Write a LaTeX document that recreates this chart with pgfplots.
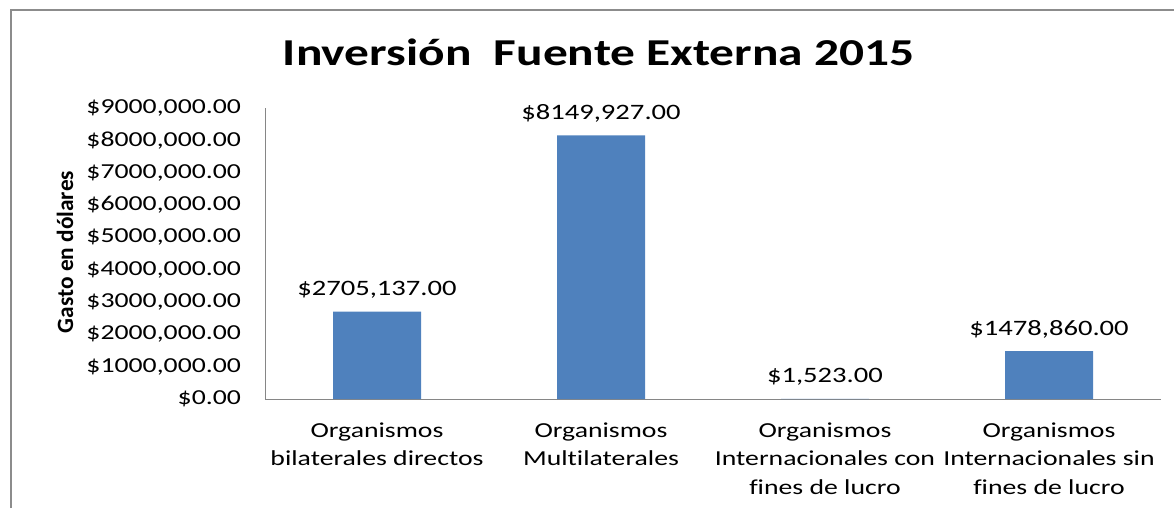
\documentclass[border=0pt]{standalone}
\usepackage{fontspec}
\setmainfont{Carlito}[FakeStretch=1.3, Ligatures=NoCommon]
\newfontfamily\plainfont{Carlito}[Ligatures=NoCommon]
\usepackage{pgfplots}
\pgfplotsset{compat=1.18}
\definecolor{barblue}{HTML}{4F81BD}
\definecolor{axisgray}{HTML}{868686}
\definecolor{framegray}{HTML}{8C8C8C}

\begin{document}
\begin{tikzpicture}
\path[use as bounding box] (0,0) rectangle (880.5pt,381pt);
% chart frame (only top and left edges are visible)
\draw[framegray, line width=1.5pt] (8.25pt,0) -- (8.25pt,373.5pt) -- (880.5pt,373.5pt);
\begin{axis}[
  at={(198.75pt,81.75pt)}, anchor=south west,
  scale only axis, width=672pt, height=218.25pt,
  ymin=0, ymax=9000000, xmin=-0.5, xmax=3.5,
  axis lines*=left,
  axis line style={axisgray, line width=0.75pt},
  major tick length=0pt,
  ytick={0,1000000,2000000,3000000,4000000,5000000,6000000,7000000,8000000,9000000},
  yticklabels={{\$0.00},{\$1000,000.00},{\$2000,000.00},{\$3000,000.00},{\$4000,000.00},
    {\$5000,000.00},{\$6000,000.00},{\$7000,000.00},{\$8000,000.00},{\$9000,000.00}},
  yticklabel style={font=\fontsize{16}{18}\selectfont, xshift=-14.5pt},
  xtick={0,1,2,3},
  xticklabels={{Organismos\\bilaterales directos},{Organismos\\Multilaterales},
    {Organismos\\Internacionales con\\fines de lucro},{Organismos\\Internacionales sin\\fines de lucro}},
  xticklabel style={align=center, font=\fontsize{16}{21.5}\selectfont, yshift=-14pt},
  scaled y ticks=false,
  ybar, bar width=66pt,
  point meta=explicit symbolic,
  nodes near coords,
  every node near coord/.append style={font=\fontsize{16.5}{18}\selectfont, anchor=center, yshift=16.5pt, black},
  clip=false,
]
  \addplot[fill=barblue, draw=none] coordinates {
    (0,2705137) [\$2705,137.00]
    (1,8149927) [\$8149,927.00]
    (2,1523)    [\$1,523.00]
    (3,1478860) [\$1478,860.00]
  };
\end{axis}
\node[rotate=90, font=\plainfont\bfseries\fontsize{17.5}{20}\selectfont] at (48.75pt,192pt) {Gasto en dólares};
\node[font=\bfseries\fontsize{28.5}{32}\selectfont] at (449pt,342pt) {Inversión\ \ Fuente Externa 2015};
\end{tikzpicture}
\end{document}
